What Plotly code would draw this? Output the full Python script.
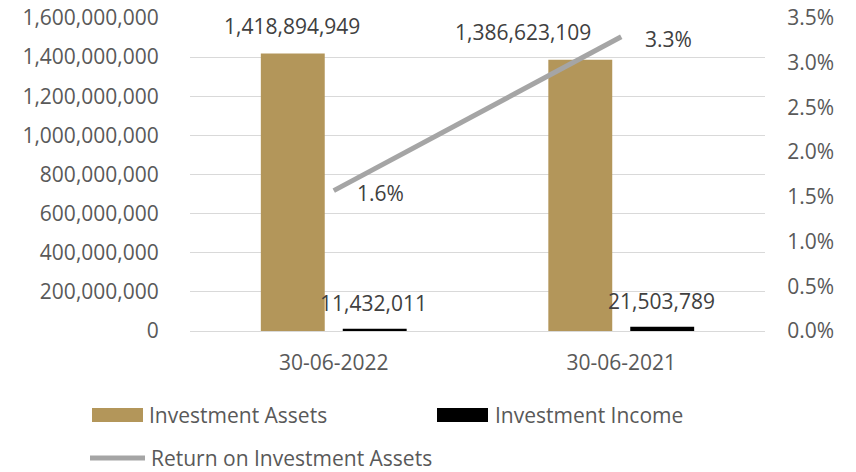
import plotly.graph_objects as go

categories = ["30-06-2022", "30-06-2021"]
investment_assets = [1418894949, 1386623109]
investment_income = [11432011, 21503789]
return_on_assets = [0.0157, 0.0329]
return_labels = ["1.6%", "3.3%"]

GOLD = "#B3965A"
BLACK = "#000000"
GREY = "#A5A5A5"
AXIS_TXT = "#595959"
LBL_TXT = "#404040"
FONT = "Open Sans"
FS = 21

fig = go.Figure()
fig.add_trace(go.Bar(x=categories, y=investment_assets, name="Investment Assets",
                     marker=dict(color=GOLD, line=dict(width=0)), showlegend=False))
fig.add_trace(go.Bar(x=categories, y=investment_income, name="Investment Income",
                     marker=dict(color=BLACK, line=dict(width=0)), showlegend=False))
fig.add_trace(go.Scatter(x=categories, y=return_on_assets, name="Return on Investment Assets",
                         mode="lines", line=dict(color=GREY, width=5), yaxis="y2",
                         showlegend=False))

annotations = []
asset_shifts = [(-42, 27), (-98, 28)]
income_shifts = [(40, 26), (40, 26)]
for i, c in enumerate(categories):
    annotations.append(dict(x=c, y=investment_assets[i], xref="x", yref="y",
                            text=f"{investment_assets[i]:,}", showarrow=False,
                            xshift=asset_shifts[i][0], yshift=asset_shifts[i][1],
                            font=dict(family=FONT, size=FS, color=LBL_TXT)))
    annotations.append(dict(x=c, y=investment_income[i], xref="x", yref="y",
                            text=f"{investment_income[i]:,}", showarrow=False,
                            xshift=income_shifts[i][0], yshift=income_shifts[i][1],
                            font=dict(family=FONT, size=FS, color=LBL_TXT)))
    annotations.append(dict(x=c, y=return_on_assets[i], xref="x", yref="y2",
                            text=return_labels[i], showarrow=False,
                            xshift=47, yshift=-2,
                            font=dict(family=FONT, size=FS, color=LBL_TXT)))

shapes = [
    dict(type="rect", xref="paper", yref="paper", xsizemode="pixel", ysizemode="pixel",
         xanchor=0, yanchor=0, x0=-98, x1=-47, y0=-91, y1=-77,
         fillcolor=GOLD, line=dict(width=0)),
    dict(type="rect", xref="paper", yref="paper", xsizemode="pixel", ysizemode="pixel",
         xanchor=0, yanchor=0, x0=247, x1=298, y0=-91, y1=-77,
         fillcolor=BLACK, line=dict(width=0)),
    dict(type="line", xref="paper", yref="paper", xsizemode="pixel", ysizemode="pixel",
         xanchor=0, yanchor=0, x0=-100, x1=-45, y0=-127, y1=-127,
         line=dict(color=GREY, width=5)),
]
legend_items = [("Investment Assets", -43, -84), ("Investment Income", 303, -84),
                ("Return on Investment Assets", -41, -127)]
for txt, xs, ys in legend_items:
    annotations.append(dict(x=0, y=0, xref="paper", yref="paper", text=txt, showarrow=False,
                            xanchor="left", yanchor="middle", xshift=xs, yshift=ys,
                            font=dict(family=FONT, size=FS, color=AXIS_TXT)))

fig.update_layout(
    width=856, height=472,
    margin=dict(l=190, r=91, t=17.5, b=141, autoexpand=False),
    paper_bgcolor="white", plot_bgcolor="white",
    barmode="group", bargap=0.43, bargroupgap=0.22,
    font=dict(family=FONT, size=FS, color=AXIS_TXT),
    showlegend=False,
    xaxis=dict(showgrid=False, showline=False, ticks="outside", ticklen=13, automargin=False,
               tickcolor="rgba(0,0,0,0)", tickfont=dict(size=FS, color=AXIS_TXT)),
    yaxis=dict(range=[0, 1.6e9], dtick=2e8, tickformat=",", showgrid=True, automargin=False,
               gridcolor="#D9D9D9", gridwidth=1, zeroline=True, zerolinecolor="#D9D9D9",
               zerolinewidth=1, ticks="outside", ticklen=26, tickcolor="rgba(0,0,0,0)",
               tickfont=dict(size=FS, color=AXIS_TXT)),
    yaxis2=dict(range=[0, 0.035], dtick=0.005, tickformat=".1%", overlaying="y",
                side="right", showgrid=False, zeroline=False, ticks="outside", ticklen=17,
                automargin=False,
                tickcolor="rgba(0,0,0,0)", tickfont=dict(size=FS, color=AXIS_TXT)),
    shapes=shapes,
    annotations=annotations,
)

fig.write_html("out.html", config={"displayModeBar": False},
               post_script="document.body.style.margin='0';document.body.style.overflow='hidden';")
